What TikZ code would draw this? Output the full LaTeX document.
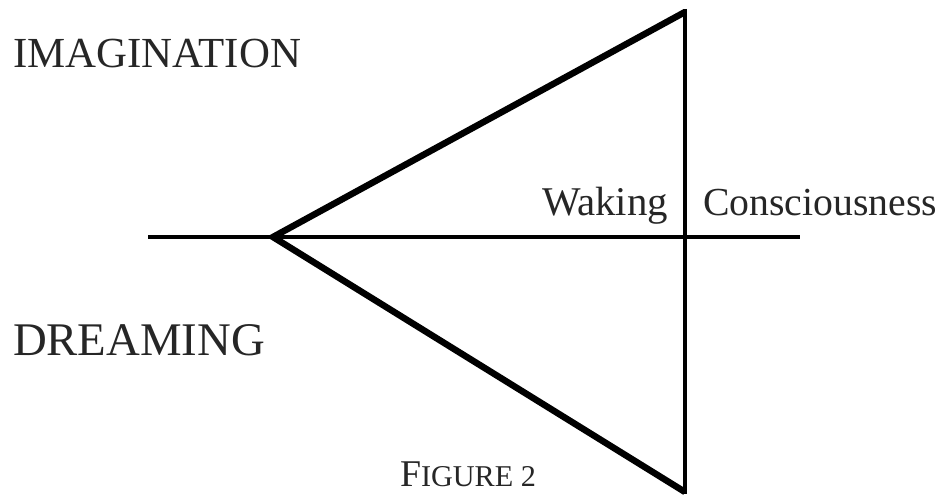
\documentclass[tikz,border=0pt]{standalone}
\usepackage{fontspec}
\setmainfont{Liberation Serif}
\usepackage{graphicx}
\newcommand{\fitw}[2]{\resizebox{#1pt}{!}{#2}}
\tikzset{
  lbl/.style={inner sep=0pt, outer sep=0pt, anchor=base west, text=black!85},
  thickline/.style={line width=6.5pt, line join=miter, line cap=butt},
  vline/.style={line width=4.8pt, line cap=butt},
  hline/.style={line width=3.8pt, line cap=butt}
}
\begin{document}
\begin{tikzpicture}[x=1pt,y=-1pt]
\useasboundingbox (0,0) rectangle (943,495);
\coordinate (top) at (685,12);
\coordinate (apex) at (273,237);
\coordinate (bot) at (685,492);
\coordinate (hl) at (148,237);
\coordinate (hr) at (800,237);
\coordinate (vtop) at (685,9);
\coordinate (vbot) at (685,494);
\draw[hline] (hl) -- (hr);
\draw[vline] (vtop) -- (vbot);
\draw[thickline] (top) -- (apex) -- (bot);
\node[lbl] (imag) at (13,67) {\fitw{288}{IMAGINATION}};
\node[lbl] (dream) at (13,355) {\fitw{252}{DREAMING}};
\node[lbl] (waking) at (542,215) {\fitw{126}{Waking}};
\node[lbl] (consc) at (703,215) {\fitw{234}{Consciousness}};
\node[lbl] (fig) at (400,486) {\fitw{136}{F{\footnotesize IGURE 2}}};
\end{tikzpicture}
\end{document}
